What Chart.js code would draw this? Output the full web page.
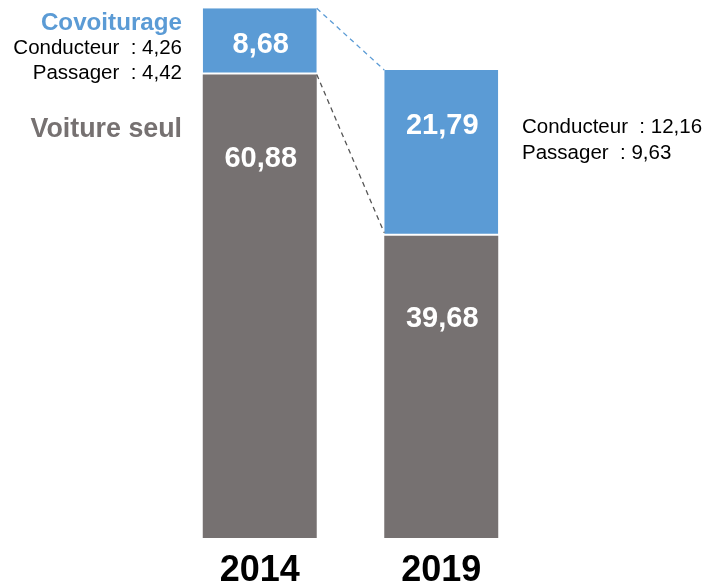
<!DOCTYPE html>
<html>
<head>
<meta charset="utf-8">
<script src="https://cdn.jsdelivr.net/npm/chart.js@4"></script>
<style>
html,body{margin:0;padding:0;background:#fff;}
#wrap{width:708px;height:583px;position:relative;}
</style>
</head>
<body>
<div id="wrap"><canvas id="c" width="708" height="583"></canvas></div>
<script>
// ---- data ----
const years = ['2014', '2019'];
const voitureSeul = [60.88, 39.68];
const covoiturage = [8.68, 21.79];
const conducteur = [4.26, 12.16];
const passager = [4.42, 9.63];
const seriesNames = ['Voiture seul', 'Covoiturage'];

const BLUE = '#5B9BD5';
const GREY = '#767171';
const FONT = '"Liberation Sans", Arial, sans-serif';

const fmt = v => v.toFixed(2).replace('.', ',');

// value label offsets from segment top (px), [dataset][index]
const labelOffsets = [[85, 83], [37, 56]];

const overlay = {
  id: 'overlay',
  afterDatasetsDraw(chart) {
    const ctx = chart.ctx;
    const g = chart.getDatasetMeta(0).data;
    const b = chart.getDatasetMeta(1).data;
    ctx.save();
    // connectors
    ctx.lineWidth = 1.3;
    ctx.setLineDash([5, 4]);
    ctx.strokeStyle = BLUE;
    ctx.beginPath();
    ctx.moveTo(b[0].x + b[0].width / 2, b[0].y);
    ctx.lineTo(b[1].x - b[1].width / 2, b[1].y);
    ctx.stroke();
    ctx.strokeStyle = '#555555';
    ctx.beginPath();
    ctx.moveTo(g[0].x + g[0].width / 2, g[0].y);
    ctx.lineTo(g[1].x - g[1].width / 2, g[1].y - 3);
    ctx.stroke();
    ctx.setLineDash([]);

    // value labels
    ctx.fillStyle = '#fff';
    ctx.font = 'bold 29px ' + FONT;
    ctx.textAlign = 'center';
    ctx.textBaseline = 'middle';
    [g, b].forEach((els, di) => {
      const vals = di === 0 ? voitureSeul : covoiturage;
      els.forEach((el, i) => {
        ctx.fillText(fmt(vals[i]), el.x + 1, el.y + labelOffsets[di][i]);
      });
    });

    // left annotations
    ctx.textBaseline = 'alphabetic';
    ctx.textAlign = 'right';
    const lx = 182;
    ctx.fillStyle = BLUE;
    ctx.font = 'bold 24.2px ' + FONT;
    ctx.fillText(seriesNames[1], lx, 30);
    ctx.fillStyle = '#000';
    ctx.font = '20.5px ' + FONT;
    ctx.fillText('Conducteur  : ' + fmt(conducteur[0]), lx, 54);
    ctx.fillText('Passager  : ' + fmt(passager[0]), lx, 79);
    ctx.fillStyle = GREY;
    ctx.font = 'bold 26.8px ' + FONT;
    ctx.fillText(seriesNames[0], lx, 137);

    // right annotations
    ctx.textAlign = 'left';
    ctx.fillStyle = '#000';
    ctx.font = '20.5px ' + FONT;
    ctx.fillText('Conducteur  : ' + fmt(conducteur[1]), 522, 133);
    ctx.fillText('Passager  : ' + fmt(passager[1]), 522, 159);
    ctx.restore();
  }
};

new Chart(document.getElementById('c'), {
  type: 'bar',
  data: {
    labels: years,
    datasets: [
      {
        label: seriesNames[0],
        data: voitureSeul,
        backgroundColor: GREY,
        borderWidth: 0
      },
      {
        label: seriesNames[1],
        data: covoiturage,
        backgroundColor: BLUE,
        borderColor: '#ffffff',
        borderWidth: { top: 0, left: 0, right: 0, bottom: 2 },
        borderSkipped: false
      }
    ]
  },
  options: {
    responsive: false,
    animation: false,
    events: [],
    layout: { padding: { left: 169, right: 176, top: 5, bottom: 0 } },
    datasets: { bar: { categoryPercentage: 1, barPercentage: 0.628 } },
    plugins: { legend: { display: false }, tooltip: { enabled: false } },
    scales: {
      x: {
        stacked: true,
        grid: { display: false },
        border: { display: false },
        ticks: {
          color: '#000',
          padding: 3,
          font: { family: FONT, size: 36, weight: 'bold', lineHeight: 1.2 }
        },
        afterFit(scale) { scale.height = 45; }
      },
      y: {
        stacked: true,
        display: false,
        min: 0,
        max: 70
      }
    }
  },
  plugins: [overlay]
});
</script>
</body>
</html>
